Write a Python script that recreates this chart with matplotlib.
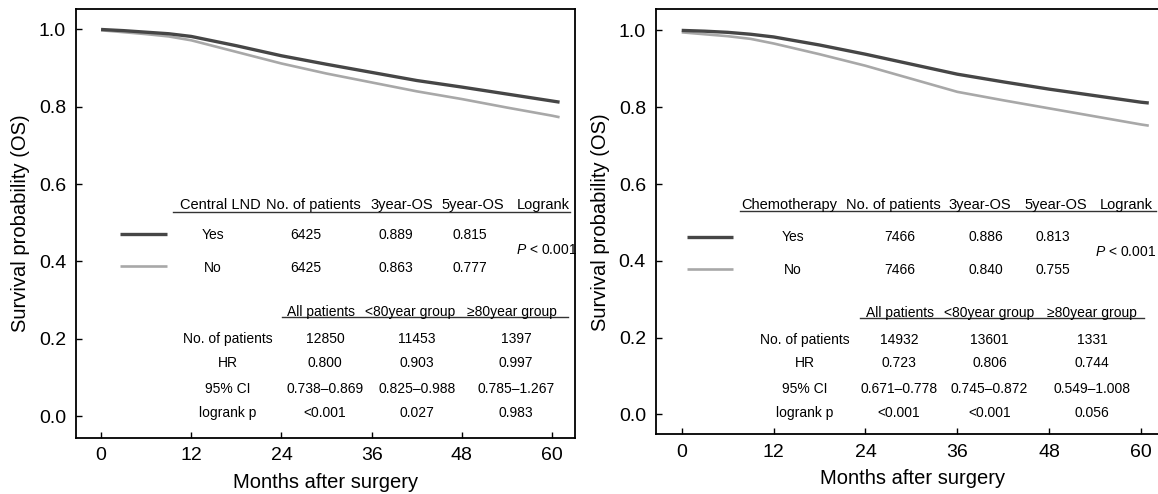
import matplotlib
matplotlib.use("Agg")
import matplotlib.pyplot as plt

plt.rcParams['font.family'] = ['Liberation Sans', 'DejaVu Sans']
plt.rcParams['mathtext.fontset'] = 'custom'
plt.rcParams['mathtext.it'] = 'Liberation Sans:italic'
plt.rcParams['mathtext.rm'] = 'Liberation Sans'

# survival curves
months = [0, 3, 6, 9, 12, 18, 24, 30, 36, 42, 48, 54, 60, 61]
lnd_yes = [1.000, 0.997, 0.993, 0.989, 0.982, 0.958, 0.932, 0.910, 0.889, 0.868, 0.851, 0.833, 0.815, 0.812]
lnd_no = [0.998, 0.993, 0.988, 0.982, 0.972, 0.942, 0.912, 0.886, 0.863, 0.840, 0.820, 0.798, 0.777, 0.773]
chemo_yes = [1.000, 0.998, 0.995, 0.990, 0.983, 0.962, 0.938, 0.912, 0.886, 0.866, 0.847, 0.830, 0.813, 0.811]
chemo_no = [0.995, 0.990, 0.985, 0.978, 0.966, 0.938, 0.908, 0.874, 0.840, 0.818, 0.797, 0.776, 0.755, 0.752]

# upper table
head_cols = ["No. of patients", "3year-OS", "5year-OS", "Logrank"]
groups = ["Yes", "No"]
lnd_n = ["6425", "6425"]
lnd_os3 = ["0.889", "0.863"]
lnd_os5 = ["0.815", "0.777"]
chemo_n = ["7466", "7466"]
chemo_os3 = ["0.886", "0.840"]
chemo_os5 = ["0.813", "0.755"]
p_text = r"$\it{P}$ < 0.001"

# lower table
sub_cols = ["All patients", "<80year group", "\u226580year group"]
row_labels = ["No. of patients", "HR", "95% CI", "logrank p"]
lnd_sub = [["12850", "11453", "1397"],
           ["0.800", "0.903", "0.997"],
           ["0.738\u20130.869", "0.825\u20130.988", "0.785\u20131.267"],
           ["<0.001", "0.027", "0.983"]]
chemo_sub = [["14932", "13601", "1331"],
             ["0.723", "0.806", "0.744"],
             ["0.671\u20130.778", "0.745\u20130.872", "0.549\u20131.008"],
             ["<0.001", "<0.001", "0.056"]]

YES_C = '#464646'
NO_C = '#a8a8a8'
FS = 10
HFS = 10.5


def draw_panel(ax, yes, no, name, n, os3, os5, sub, lay):
    ax.plot(months, yes, color=YES_C, lw=2.4, solid_capstyle='butt', zorder=3)
    ax.plot(months, no, color=NO_C, lw=1.9, solid_capstyle='butt', zorder=2)

    ax.set_xlim(lay['xlim'])
    ax.set_ylim(lay['ylim'])
    ax.set_xticks([0, 12, 24, 36, 48, 60])
    ax.set_yticks([0.0, 0.2, 0.4, 0.6, 0.8, 1.0])
    ax.set_yticklabels(["0.0", "0.2", "0.4", "0.6", "0.8", "1.0"])
    ax.tick_params(direction='in', length=4, width=1, labelsize=14, pad=7)
    for s in ax.spines.values():
        s.set_linewidth(1.3)
    ax.set_xlabel("Months after surgery", fontsize=14.5, labelpad=6)
    ax.set_ylabel("Survival probability (OS)", fontsize=14.5, labelpad=6)

    # upper table
    hy, uy = 0.546, 0.529
    ax.text(lay['hx'][0], hy, name, ha='center', va='center', fontsize=HFS)
    for x, t in zip(lay['hx'][1:], head_cols):
        ax.text(x, hy, t, ha='center', va='center', fontsize=HFS)
    ax.plot(lay['uline1'], [uy, uy], color='#333333', lw=1, clip_on=False)
    for i, (g, ry, ly) in enumerate(zip(groups, lay['rows'], lay['legy'])):
        ax.text(lay['vx'][0], ry, g, ha='center', va='center', fontsize=FS)
        ax.text(lay['vx'][1], ry, n[i], ha='center', va='center', fontsize=FS)
        ax.text(lay['vx'][2], ry, os3[i], ha='center', va='center', fontsize=FS)
        ax.text(lay['vx'][3], ry, os5[i], ha='center', va='center', fontsize=FS)
        ax.plot(lay['legx'], [ly, ly], color=[YES_C, NO_C][i],
                lw=[2.4, 1.9][i], solid_capstyle='butt')
    ax.text(lay['px'], lay['py'], p_text, ha='center', va='center', fontsize=FS)

    # lower table
    sy, suy = lay['sub_y'], lay['sub_uy']
    for x, t in zip(lay['sx'], sub_cols):
        ax.text(x, sy, t, ha='center', va='center', fontsize=FS)
    ax.plot(lay['uline2'], [suy, suy], color='#333333', lw=1, clip_on=False)
    for r, (lab, yy) in enumerate(zip(row_labels, lay['sub_rows'])):
        ax.text(lay['rlx'], yy, lab, ha='center', va='center', fontsize=FS)
        for x, v in zip(lay['svx'], sub[r]):
            ax.text(x, yy, v, ha='center', va='center', fontsize=FS)


fig = plt.figure(figsize=(11.58, 4.94), dpi=100)
ax1 = fig.add_axes([0.0654, 0.114, 0.4312, 0.867])
ax2 = fig.add_axes([0.5662, 0.1209, 0.4441, 0.8603])

left_lay = dict(xlim=(-3.37, 63.06), ylim=(-0.056, 1.052),
                hx=[15.9, 28.3, 40.0, 49.5, 58.8], uline1=[9.6, 62.4],
                rows=[0.468, 0.382], vx=[14.9, 27.2, 39.2, 49.1],
                legx=[2.5, 8.8], legy=[0.471, 0.389], px=59.3, py=0.430,
                sub_y=0.270, sub_uy=0.257, sx=[29.3, 41.1, 54.6], uline2=[24.1, 62.1],
                sub_rows=[0.199, 0.137, 0.070, 0.009], rlx=16.9, svx=[29.8, 42.0, 55.2])
right_lay = dict(xlim=(-3.4, 63.76), ylim=(-0.0516, 1.055),
                 hx=[14.0, 27.7, 38.9, 48.9, 58.1], uline1=[7.6, 62.0],
                 rows=[0.463, 0.376], vx=[14.5, 28.5, 39.7, 48.5],
                 legx=[0.7, 6.7], legy=[0.461, 0.379], px=58.0, py=0.424,
                 sub_y=0.265, sub_uy=0.252, sx=[28.5, 40.2, 53.6], uline2=[23.3, 60.4],
                 sub_rows=[0.194, 0.133, 0.066, 0.005], rlx=16.1, svx=[28.4, 40.2, 53.6])

draw_panel(ax1, lnd_yes, lnd_no, "Central LND", lnd_n, lnd_os3, lnd_os5, lnd_sub, left_lay)
draw_panel(ax2, chemo_yes, chemo_no, "Chemotherapy", chemo_n, chemo_os3, chemo_os5, chemo_sub, right_lay)

fig.savefig("out.png", dpi=100)
